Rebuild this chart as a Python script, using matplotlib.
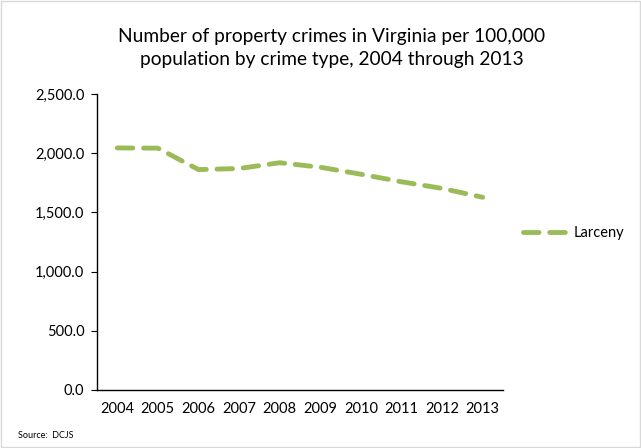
import matplotlib
matplotlib.use("Agg")
import matplotlib.pyplot as plt
from matplotlib.ticker import FuncFormatter

years = ["2004", "2005", "2006", "2007", "2008", "2009", "2010", "2011", "2012", "2013"]
larceny = [2045, 2043, 1862, 1871, 1920, 1882, 1823, 1759, 1703, 1628]
yticks = [0, 500, 1000, 1500, 2000, 2500]

plt.rcParams['font.family'] = ['Lato', 'DejaVu Sans']

fig = plt.figure(figsize=(6.41, 4.48), dpi=100)
ax = fig.add_axes([0.1513, 0.1295, 0.6334, 0.6605])

x = list(range(len(years)))
ax.plot(x, larceny, color='#9bbb59', lw=3.5, dashes=(3.2, 2.2),
        solid_capstyle='round', dash_capstyle='round', label='Larceny')

ax.set_xlim(-0.5, len(years) - 0.5)
ax.set_ylim(0, 2500)
ax.set_yticks(yticks)
ax.yaxis.set_major_formatter(FuncFormatter(lambda v, p: f"{v:,.1f}"))
ax.set_xticks(x)
ax.set_xticklabels(years)
ax.tick_params(axis='y', length=4, width=0.8, labelsize=10.5, pad=5)
ax.tick_params(axis='x', length=0, labelsize=10.5, pad=9)

for s in ['top', 'right']:
    ax.spines[s].set_visible(False)
for s in ['left', 'bottom']:
    ax.spines[s].set_linewidth(1.0)
    ax.spines[s].set_color('black')

fig.text(0.518, 0.893, "Number of property crimes in Virginia per 100,000\npopulation by crime type, 2004 through 2013",
         ha='center', va='center', fontsize=13.8, linespacing=1.45)

ax.legend(loc='center left', bbox_to_anchor=(1.017, 0.53), frameon=False,
          fontsize=10.5, handlelength=3.2, handletextpad=0.3)

fig.text(0.028, 0.028, "Source:  DCJS", fontsize=6.5, ha='left', va='center')

fig.patches.append(plt.Rectangle((0.002, 0.002), 0.996, 0.996, transform=fig.transFigure,
                                 fill=False, edgecolor='#d9d9d9', lw=1))

fig.savefig("out.png", dpi=100)
